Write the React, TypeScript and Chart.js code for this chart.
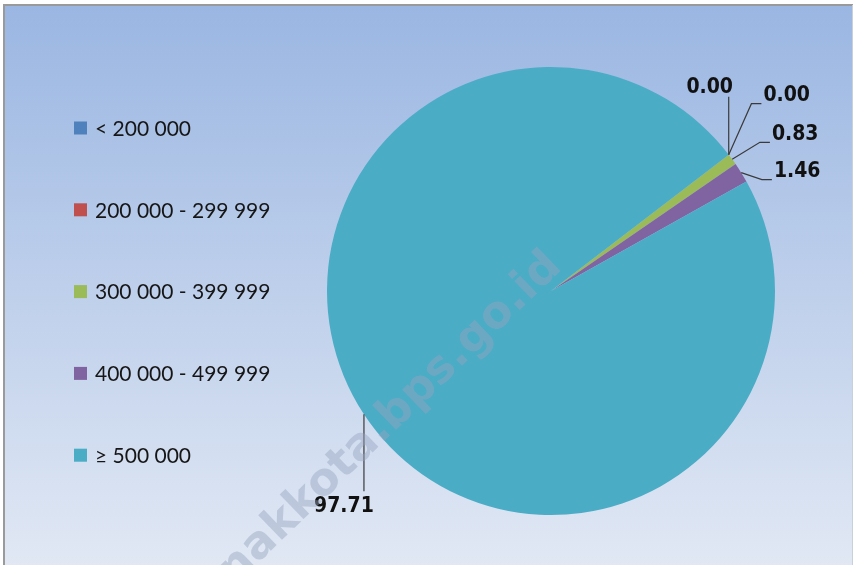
import React, { useEffect, useRef } from "react";
import { Chart, registerables } from "chart.js";

Chart.register(...registerables);

const categories = ["< 200 000", "200 000 - 299 999", "300 000 - 399 999", "400 000 - 499 999", "≥ 500 000"];
const values = [0.0, 0.0, 0.83, 1.46, 97.71];
const colors = ["#4f81bd", "#c0504d", "#9bbb59", "#8064a2", "#4bacc6"];
// label centre offsets from the slice's outer mid point (styling)
const labelOffsets: [number, number][] = [[-19, -67], [58, -59], [63, -25], [56, -1], [-20, 92]];
const watermark = "pontianakkota.bps.go.id";

const backgroundPlugin = {
  id: "bgPanel",
  beforeDraw(chart: any) {
    const { ctx, width, height } = chart;
    ctx.save();
    ctx.fillStyle = "#ffffff";
    ctx.fillRect(0, 0, width, height);
    const g = ctx.createLinearGradient(0, 4, 0, height);
    g.addColorStop(0, "#9ab6e2");
    g.addColorStop(1, "#e1e8f4");
    ctx.fillStyle = g;
    ctx.fillRect(4, 5, width - 6, height - 5);
    ctx.strokeStyle = "#9a9a9a";
    ctx.lineWidth = 2;
    ctx.beginPath();
    ctx.moveTo(4, height + 2);
    ctx.lineTo(4, 5);
    ctx.lineTo(width - 2, 5);
    ctx.stroke();
    ctx.strokeStyle = "#c8d0dc";
    ctx.lineWidth = 1;
    ctx.beginPath();
    ctx.moveTo(width - 2.5, 5);
    ctx.lineTo(width - 2.5, height);
    ctx.stroke();
    // legend
    ctx.font = "21px Lato";
    ctx.textBaseline = "middle";
    ctx.textAlign = "left";
    categories.forEach((c, i) => {
      const y = 128 + i * 81.8;
      ctx.fillStyle = colors[i];
      ctx.fillRect(74, y - 6.5, 13, 13);
      ctx.fillStyle = "#161616";
      ctx.fillText(c, 95, y + 1);
    });
    ctx.restore();
  },
};

const labelPlugin = {
  id: "pieLabels",
  afterDatasetsDraw(chart: any) {
    const { ctx } = chart;
    const meta = chart.getDatasetMeta(0);
    ctx.save();
    ctx.font = "bold 21px 'DejaVu Sans Condensed'";
    ctx.textAlign = "center";
    ctx.textBaseline = "middle";
    meta.data.forEach((arc: any, i: number) => {
      const p = arc.getProps(["x", "y", "startAngle", "endAngle", "outerRadius"], true);
      const mid = (p.startAngle + p.endAngle) / 2;
      const ax = p.x + Math.cos(mid) * p.outerRadius;
      const ay = p.y + Math.sin(mid) * p.outerRadius;
      const [dx, dy] = labelOffsets[i];
      const cx = ax + dx;
      const cy = ay + dy;
      const text = values[i].toFixed(2);
      const w = ctx.measureText(text).width;
      const left = cx - w / 2;
      const right = cx + w / 2;
      const top = cy - 8;
      const bottom = cy + 8;
      ctx.strokeStyle = "#3a3a3a";
      ctx.lineWidth = 1.2;
      ctx.beginPath();
      ctx.moveTo(ax, ay);
      if (left > ax + 10) {
        ctx.lineTo(left - 12, bottom);
        ctx.lineTo(left - 2, bottom);
      } else {
        const lx = Math.min(Math.max(ax, left), right + 4);
        if (ay > bottom) ctx.lineTo(lx, bottom + 1);
        else ctx.lineTo(lx, top - 7);
      }
      ctx.stroke();
      ctx.fillStyle = "#111111";
      ctx.fillText(text, cx, cy);
    });
    ctx.restore();
  },
  afterDraw(chart: any) {
    const { ctx } = chart;
    ctx.save();
    ctx.translate(555, 260);
    ctx.rotate((-44 * Math.PI) / 180);
    ctx.font = "bold 45px 'DejaVu Sans'";
    ctx.textAlign = "right";
    ctx.textBaseline = "middle";
    ctx.fillStyle = "rgba(150,165,190,0.45)";
    ctx.fillText(watermark, 0, 0);
    ctx.restore();
  },
};

export default function App() {
  const ref = useRef<HTMLCanvasElement | null>(null);
  useEffect(() => {
    if (!ref.current) return;
    const chart = new Chart(ref.current, {
      type: "pie",
      data: {
        labels: categories,
        datasets: [
          {
            data: values,
            backgroundColor: colors,
            borderWidth: 0,
          },
        ],
      },
      options: {
        animation: false,
        responsive: false,
        rotation: 52.5,
        layout: { padding: { left: 327, right: 80, top: 67, bottom: 50 } },
        plugins: {
          legend: { display: false },
          tooltip: { enabled: false },
        },
      },
      plugins: [backgroundPlugin, labelPlugin],
    });
    return () => chart.destroy();
  }, []);
  return (
    <div style={{ position: "fixed", left: 0, top: 0, width: 855, height: 565 }}>
      <canvas ref={ref} width={855} height={565} style={{ display: "block" }} />
    </div>
  );
}
